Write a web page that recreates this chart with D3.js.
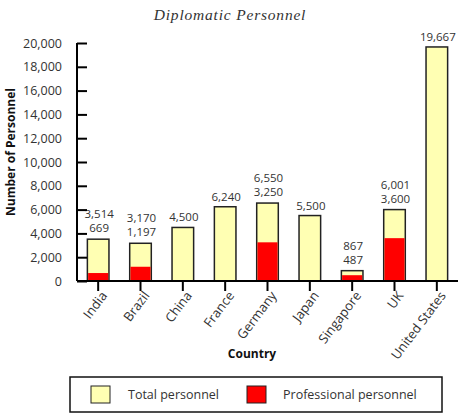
<!DOCTYPE html>
<meta charset="utf-8">
<title>Diplomatic Personnel</title>
<style>
  body { margin: 0; background: #fff; }
  text { font-family: "Open Sans", sans-serif; }
</style>
<body>
<script src="https://d3js.org/d3.v7.min.js"></script>
<script>

var countries = ["India", "Brazil", "China", "France", "Germany", "Japan", "Singapore", "UK", "United States"];
var totalPersonnel = [3514, 3170, 4500, 6240, 6550, 5500, 867, 6001, 19667];
var professionalPersonnel = [669, 1197, null, null, 3250, null, 487, 3600, null];
var yTicks = [0, 2000, 4000, 6000, 8000, 10000, 12000, 14000, 16000, 18000, 20000];

var width = 464,
    height = 417;

var yellow = "#ffffb3",
    red = "#ff0000",
    dark = "#222";

var svg = d3.select("body").append("svg")
    .attr("width", width)
    .attr("height", height);

var x = d3.scaleBand()
    .domain(countries)
    .range([77, 458])
    .paddingInner(0.49)
    .paddingOuter(0.245);

var y = d3.scaleLinear()
    .domain([0, 20000])
    .range([281, 43]);

var fmt = d3.format(",");

// title
svg.append("text")
    .attr("x", 230)
    .attr("y", 20)
    .attr("text-anchor", "middle")
    .style("font-family", "'Liberation Serif', serif")
    .style("font-style", "italic")
    .style("font-size", "15.5px")
    .style("letter-spacing", "0.8px")
    .attr("fill", "#333")
    .text("Diplomatic Personnel");

// bars
var bars = svg.selectAll("g.bar")
    .data(countries)
    .enter().append("g")
    .attr("class", "bar");

bars.append("rect")
    .attr("x", function(d) { return x(d); })
    .attr("width", x.bandwidth())
    .attr("y", function(d, i) { return y(totalPersonnel[i]); })
    .attr("height", function(d, i) { return y(0) - y(totalPersonnel[i]); })
    .attr("fill", yellow)
    .attr("stroke", dark)
    .attr("stroke-width", 1.5);

bars.filter(function(d, i) { return professionalPersonnel[i] != null; })
  .append("rect")
    .attr("x", function(d) { return x(d) + 0.75; })
    .attr("width", x.bandwidth() - 1.5)
    .attr("y", function(d) { return y(professionalPersonnel[countries.indexOf(d)]); })
    .attr("height", function(d) { return y(0) - y(professionalPersonnel[countries.indexOf(d)]); })
    .attr("fill", red);

// value labels
bars.append("text")
    .attr("x", function(d) { return x(d) + x.bandwidth() / 2 + 1; })
    .attr("y", function(d, i) {
      return y(totalPersonnel[i]) - (professionalPersonnel[i] != null ? 21 : 6);
    })
    .attr("text-anchor", "middle")
    .style("font-size", "11.5px")
    .attr("fill", "#333")
    .text(function(d, i) { return fmt(totalPersonnel[i]); });

bars.filter(function(d, i) { return professionalPersonnel[i] != null; })
  .append("text")
    .attr("x", function(d) { return x(d) + x.bandwidth() / 2 + 1; })
    .attr("y", function(d) { return y(totalPersonnel[countries.indexOf(d)]) - 7; })
    .attr("text-anchor", "middle")
    .style("font-size", "11.5px")
    .attr("fill", "#333")
    .text(function(d) { return fmt(professionalPersonnel[countries.indexOf(d)]); });

// y axis
var yAxis = svg.append("g")
    .attr("transform", "translate(77,0)")
    .call(d3.axisRight(y).tickValues(yTicks).tickSize(10).tickFormat(fmt));

yAxis.select(".domain").attr("d", "M0," + y(20000) + "V" + y(0)).attr("stroke", "#000").attr("stroke-width", 2);
yAxis.selectAll(".tick line").attr("stroke", "#000").attr("stroke-width", 2);
yAxis.selectAll(".tick text")
    .attr("x", -15)
    .attr("text-anchor", "end")
    .style("font-size", "12.5px")
    .style("font-family", "'Open Sans', sans-serif")
    .attr("fill", "#333");

// x axis
var xAxis = svg.append("g")
    .attr("transform", "translate(0," + y(0) + ")")
    .call(d3.axisBottom(x).tickSize(10).tickSizeOuter(0));

xAxis.select(".domain").attr("d", "M77,0H458").attr("stroke", "#000").attr("stroke-width", 2);
xAxis.selectAll(".tick line").attr("stroke", "#000").attr("stroke-width", 2);
xAxis.selectAll(".tick text")
    .attr("text-anchor", "end")
    .attr("transform", "translate(6,12) rotate(-53)")
    .attr("x", 0)
    .attr("y", 0)
    .attr("dy", "0.35em")
    .style("font-size", "13px")
    .style("font-family", "'Open Sans', sans-serif")
    .attr("fill", "#333");

// axis titles
svg.append("text")
    .attr("transform", "translate(15,152) rotate(-90)")
    .attr("text-anchor", "middle")
    .style("font-size", "12px")
    .style("font-weight", "bold")
    .attr("fill", "#111")
    .text("Number of Personnel");

svg.append("text")
    .attr("x", 252)
    .attr("y", 358)
    .attr("text-anchor", "middle")
    .style("font-size", "12px")
    .style("font-weight", "bold")
    .attr("fill", "#111")
    .text("Country");

// legend
var legendItems = [
  { label: "Total personnel", color: yellow, x: 91, tx: 128 },
  { label: "Professional personnel", color: red, x: 247, tx: 283 }
];

svg.append("rect")
    .attr("x", 70).attr("y", 377)
    .attr("width", 372).attr("height", 35)
    .attr("fill", "none")
    .attr("stroke", "#111")
    .attr("stroke-width", 1.5);

var legend = svg.selectAll("g.legend")
    .data(legendItems)
    .enter().append("g")
    .attr("class", "legend");

legend.append("rect")
    .attr("x", function(d) { return d.x; })
    .attr("y", 386)
    .attr("width", 19)
    .attr("height", 17)
    .attr("fill", function(d) { return d.color; })
    .attr("stroke", dark)
    .attr("stroke-width", 1);

legend.append("text")
    .attr("x", function(d) { return d.tx; })
    .attr("y", 399)
    .style("font-size", "12.5px")
    .attr("fill", "#333")
    .text(function(d) { return d.label; });

</script>
